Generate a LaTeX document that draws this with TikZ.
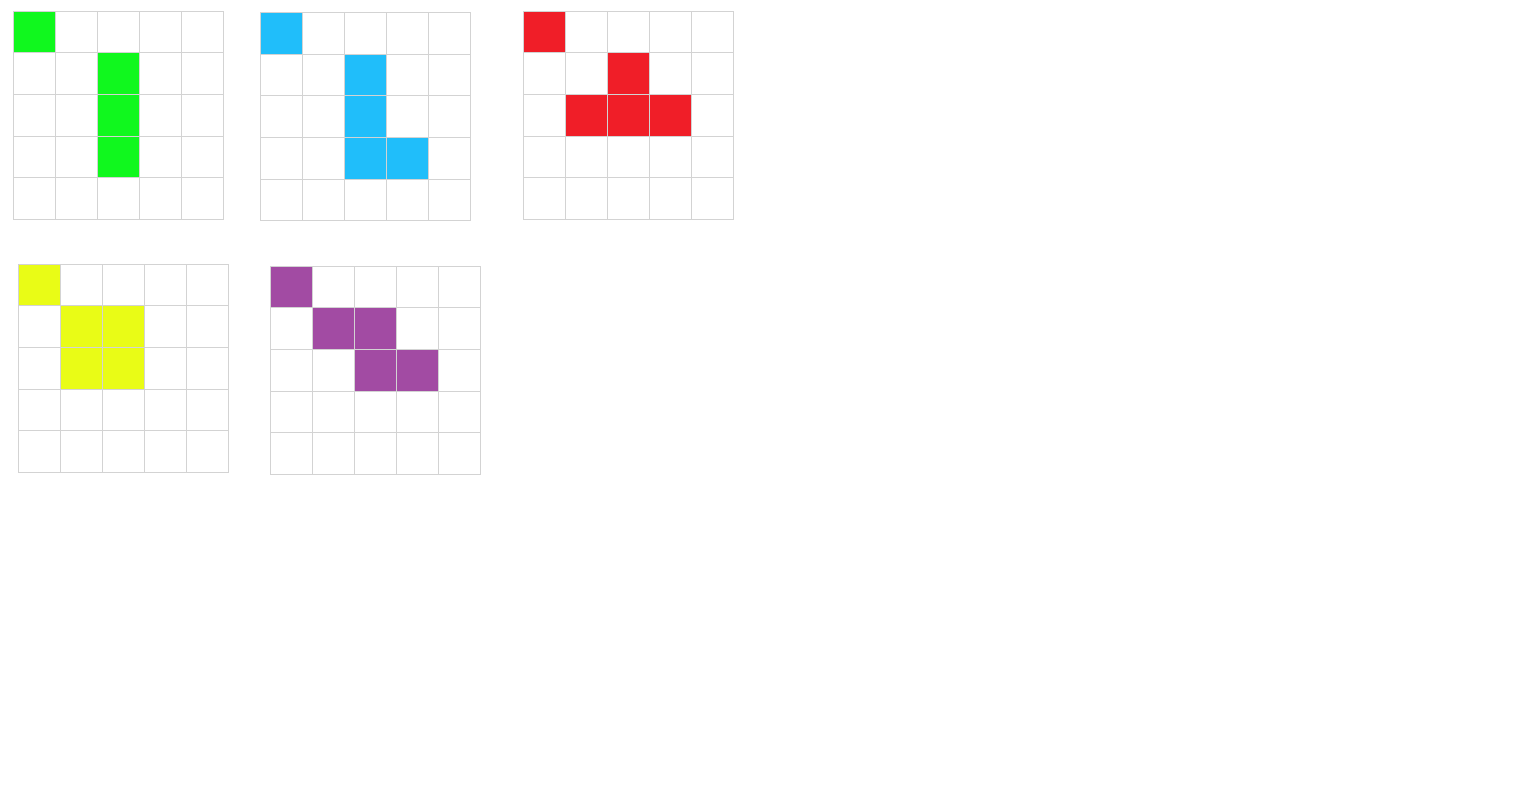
\documentclass[tikz,border=0pt]{standalone}
\definecolor{gline}{HTML}{D3D3D3}
\definecolor{cgreen}{HTML}{10F81E}
\definecolor{cblue}{HTML}{20BEFA}
\definecolor{cred}{HTML}{F01E28}
\definecolor{cyellow}{HTML}{E9FC16}
\definecolor{cpurple}{HTML}{A24BA3}
\tikzset{gridcell/.style={draw=gline, line width=1pt, minimum width=42pt, minimum height=41.6pt, inner sep=0pt, outer sep=0pt, anchor=north west, fill=white}}
\newcommand{\mygrid}[5]{% name, x, y, color, filled list
  \foreach \c in {0,...,4}{\foreach \r in {0,...,4}{
    \node[gridcell] (#1-\c-\r) at (#2+42*\c, #3+41.6*\r) {};
  }}
  \foreach \c/\r in {#5}{
    \node[gridcell, fill=#4] (#1-f-\c-\r) at (#2+42*\c, #3+41.6*\r) {};
  }
}
\begin{document}
\begin{tikzpicture}[x=1pt,y=-1pt]
\useasboundingbox (0,0) rectangle (1524,808);
\fill[white] (0,0) rectangle (1524,808);
\mygrid{g}{13.3}{11.3}{cgreen}{0/0,2/1,2/2,2/3}
\mygrid{b}{260.7}{12.7}{cblue}{0/0,2/1,2/2,2/3,3/3}
\mygrid{r}{523.3}{11.3}{cred}{0/0,2/1,1/2,2/2,3/2}
\mygrid{y}{18.3}{264.3}{cyellow}{0/0,1/1,2/1,1/2,2/2}
\mygrid{p}{270.3}{266.3}{cpurple}{0/0,1/1,2/1,2/2,3/2}
\end{tikzpicture}
\end{document}
